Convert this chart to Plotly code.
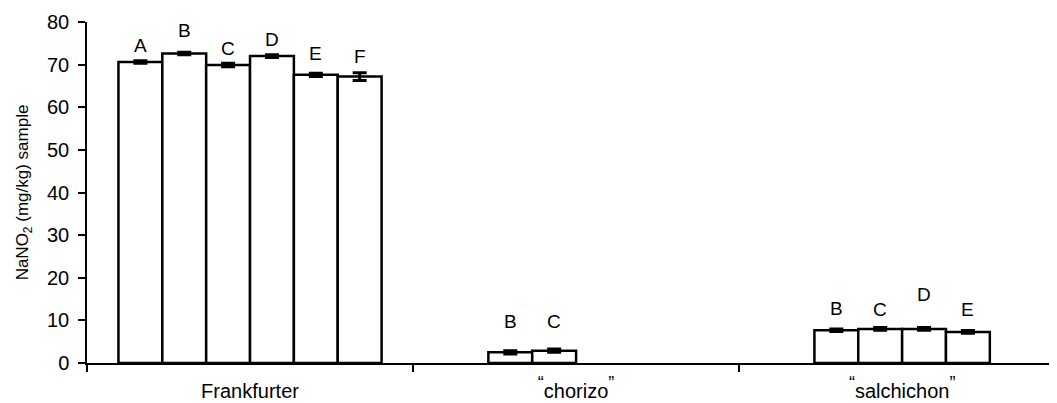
import plotly.graph_objects as go

Q_OPEN = "<sup><span style='font-size:18px'>“</span></sup>"
Q_CLOSE = "<sup><span style='font-size:18px'>”</span></sup>"
categories = ["Frankfurter", Q_OPEN + "chorizo" + Q_CLOSE, Q_OPEN + "salchichon" + Q_CLOSE]
series = ["A", "B", "C", "D", "E", "F"]

# values per series across the three products (None = not present)
val_A = [70.6, None, None]
val_B = [72.6, 2.5, 7.7]
val_C = [69.9, 2.9, 8.0]
val_D = [72.0, None, 8.0]
val_E = [67.6, None, 7.3]
val_F = [67.2, None, None]

err_A = [0.3, 0, 0]
err_B = [0.3, 0.4, 0.3]
err_C = [0.4, 0.4, 0.3]
err_D = [0.3, 0, 0.3]
err_E = [0.4, 0, 0.3]
err_F = [0.9, 0, 0]

# heights (data units) of the letter labels as drawn above the bars
lab_A = [74.4, None, None]
lab_B = [77.9, 9.7, 12.8]
lab_C = [73.7, 9.7, 12.6]
lab_D = [75.8, None, 16.1]
lab_E = [72.5, None, 12.6]
lab_F = [71.8, None, None]

values = [val_A, val_B, val_C, val_D, val_E, val_F]
errors = [err_A, err_B, err_C, err_D, err_E, err_F]
labels_y = [lab_A, lab_B, lab_C, lab_D, lab_E, lab_F]

FONT = "Liberation Sans, Arial, sans-serif"
BARGAP = 0.193

fig = go.Figure()
for s, v, e in zip(series, values, errors):
    fig.add_trace(go.Bar(
        x=categories, y=v, name=s,
        marker=dict(color="white", line=dict(color="black", width=2.5)),
        error_y=dict(type="data", array=e, visible=True, color="black", thickness=3, width=7),
        showlegend=False,
    ))

n = len(series)
w = (1 - BARGAP) / n
for si, (s, ly) in enumerate(zip(series, labels_y)):
    for ci, yv in enumerate(ly):
        if yv is None:
            continue
        fig.add_annotation(
            x=ci + (si - (n - 1) / 2) * w, y=yv, xref="x", yref="y",
            text=s, showarrow=False,
            font=dict(family=FONT, size=19, color="black"),
        )

# page body has an 8px default margin, so the figure is 8px smaller than the window
fig.update_layout(
    width=1049, height=395,
    margin=dict(l=79, r=0, t=14, b=40),
    paper_bgcolor="white", plot_bgcolor="white",
    barmode="group", bargap=BARGAP, bargroupgap=0,
    font=dict(family=FONT, size=20, color="black"),
)
fig.update_xaxes(
    range=[-0.5, 2.475], showline=True, linecolor="black", linewidth=1.5,
    ticks="outside", ticklen=7, tickwidth=1.5, tickcolor="black",
    tickson="boundaries", showgrid=False, zeroline=False, automargin=False,
    ticklabelstandoff=9,
    tickfont=dict(family=FONT, size=20),
)
fig.update_yaxes(
    range=[0, 80], dtick=10, showline=True, linecolor="black", linewidth=1.5,
    ticks="outside", ticklen=7, tickwidth=1.5, tickcolor="black",
    showgrid=False, zeroline=False, ticklabelstandoff=5, automargin=False,
    tickfont=dict(family=FONT, size=20),
    title=dict(text="NaNO<sub>2</sub> (mg/kg) sample", font=dict(family=FONT, size=17), standoff=14),
)

fig.write_html("out.html")
